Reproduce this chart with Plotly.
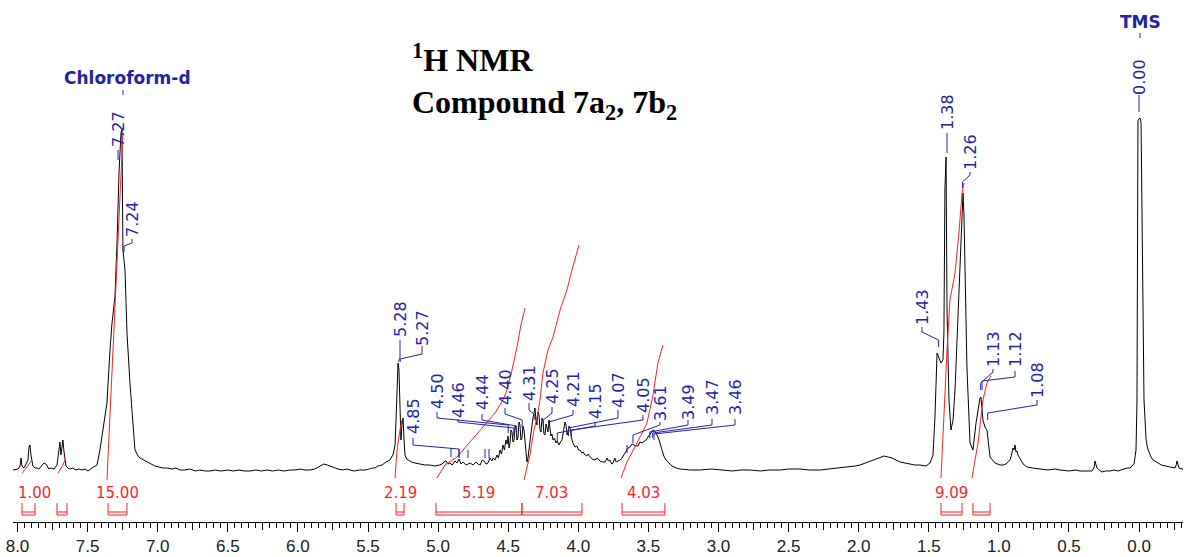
import plotly.graph_objects as go

# ---------------- DATA ----------------
# 1H NMR spectrum trace (chemical shift in ppm, relative intensity)
SHIFT_PPM = [
    8.032, 7.996, 7.982, 7.975, 7.968, 7.954, 7.939, 7.925, 7.918, 7.911,
    7.904, 7.890, 7.875, 7.861, 7.847, 7.833, 7.811, 7.797, 7.776, 7.760,
    7.740, 7.718, 7.704, 7.697, 7.690, 7.683, 7.676, 7.668, 7.654, 7.640,
    7.626, 7.605, 7.583, 7.562, 7.540, 7.518, 7.497, 7.469, 7.433, 7.412,
    7.376, 7.362, 7.340, 7.326, 7.305, 7.290, 7.276, 7.262, 7.255, 7.248,
    7.233, 7.219, 7.198, 7.162, 7.140, 7.126, 7.100, 7.076, 7.050, 7.020,
    6.990, 6.960, 6.934, 6.900, 6.870, 6.840, 6.805, 6.770, 6.730, 6.700,
    6.660, 6.627, 6.590, 6.550, 6.500, 6.460, 6.420, 6.380, 6.342, 6.300,
    6.260, 6.220, 6.180, 6.140, 6.100, 6.056, 6.020, 5.980, 5.950, 5.914,
    5.880, 5.857, 5.835, 5.814, 5.790, 5.771, 5.740, 5.714, 5.680, 5.650,
    5.628, 5.600, 5.560, 5.521, 5.490, 5.470, 5.450, 5.430, 5.400, 5.385,
    5.372, 5.357, 5.343, 5.332, 5.322, 5.314, 5.307, 5.300, 5.293, 5.286,
    5.279, 5.272, 5.265, 5.258, 5.250, 5.243, 5.236, 5.225, 5.215, 5.190,
    5.165, 5.130, 5.094, 5.060, 5.022, 4.990, 4.972, 4.958, 4.944, 4.930,
    4.915, 4.900, 4.879, 4.865, 4.851, 4.836, 4.822, 4.800, 4.772, 4.750,
    4.730, 4.715, 4.700, 4.686, 4.672, 4.658, 4.644, 4.630, 4.616, 4.608,
    4.594, 4.580, 4.570, 4.558, 4.548, 4.537, 4.527, 4.516, 4.508, 4.501,
    4.494, 4.487, 4.480, 4.473, 4.466, 4.458, 4.451, 4.444, 4.437, 4.430,
    4.423, 4.416, 4.409, 4.402, 4.395, 4.387, 4.380, 4.373, 4.366, 4.359,
    4.352, 4.345, 4.338, 4.330, 4.323, 4.316, 4.309, 4.302, 4.295, 4.288,
    4.280, 4.273, 4.266, 4.259, 4.252, 4.245, 4.238, 4.230, 4.223, 4.216,
    4.209, 4.202, 4.195, 4.188, 4.180, 4.170, 4.159, 4.150, 4.138, 4.127,
    4.116, 4.109, 4.102, 4.095, 4.088, 4.080, 4.073, 4.066, 4.059, 4.052,
    4.045, 4.035, 4.024, 4.010, 3.998, 3.988, 3.975, 3.965, 3.952, 3.940,
    3.930, 3.916, 3.900, 3.881, 3.865, 3.845, 3.830, 3.809, 3.795, 3.785,
    3.774, 3.762, 3.752, 3.740, 3.730, 3.717, 3.700, 3.688, 3.675, 3.660,
    3.645, 3.631, 3.617, 3.603, 3.590, 3.574, 3.560, 3.546, 3.530, 3.517,
    3.503, 3.488, 3.478, 3.467, 3.456, 3.446, 3.435, 3.424, 3.414, 3.403,
    3.390, 3.374, 3.350, 3.332, 3.300, 3.274, 3.200, 3.132, 3.050, 2.980,
    2.900, 2.847, 2.780, 2.700, 2.640, 2.561, 2.500, 2.419, 2.350, 2.276,
    2.200, 2.133, 2.080, 2.026, 1.990, 1.955, 1.920, 1.884, 1.850, 1.819,
    1.790, 1.762, 1.735, 1.705, 1.670, 1.634, 1.600, 1.563, 1.520, 1.491,
    1.470, 1.456, 1.441, 1.427, 1.413, 1.399, 1.392, 1.385, 1.377, 1.370,
    1.356, 1.342, 1.327, 1.313, 1.299, 1.292, 1.278, 1.270, 1.263, 1.256,
    1.249, 1.242, 1.228, 1.206, 1.185, 1.163, 1.149, 1.135, 1.128, 1.114,
    1.099, 1.085, 1.063, 1.028, 0.992, 0.970, 0.950, 0.935, 0.921, 0.910,
    0.900, 0.892, 0.885, 0.878, 0.871, 0.864, 0.850, 0.835, 0.820, 0.800,
    0.760, 0.707, 0.650, 0.600, 0.564, 0.500, 0.450, 0.422, 0.380, 0.336,
    0.322, 0.314, 0.307, 0.300, 0.285, 0.265, 0.240, 0.208, 0.180, 0.150,
    0.130, 0.108, 0.085, 0.065, 0.050, 0.036, 0.022, 0.015, 0.008, -0.007,
    -0.014, -0.021, -0.028, -0.035, -0.050, -0.060, -0.071, -0.085, -0.100, -0.120,
    -0.135, -0.160, -0.185, -0.220, -0.256, -0.265, -0.270, -0.278, -0.285, -0.328,
]
INTENSITY = [
    0, 1, 4, 12, 4, 2, 6, 10, 23, 25,
    15, 4, 2, 2, 1, 3, 7, 6, 1, 2,
    1, 5, 22, 28, 15, 25, 30, 18, 4, 2,
    1, 2, 0, 1, 0, 1, -1, 2, 5, 20,
    53, 67, 120, 147, 173, 227, 297, 337, 340, 220,
    200, 137, 87, 20, 14, 12, 10, 8, 6, 4,
    3, 2, 2, 1, 2, 0, 0, 1, -1, 0,
    -1, -1, 0, -1, 0, -1, 0, -1, -1, 0,
    -1, 0, -1, 0, -1, 0, 0, 1, 0, 0,
    1, 3, 5, 6, 5, 4, 2, 1, 0, 1,
    0, -1, 0, 0, 1, 2, 2, 4, 5, 7,
    8, 9, 10, 13, 15, 20, 25, 50, 90, 107,
    100, 50, 30, 45, 52, 30, 15, 11, 10, 8,
    7, 6, 5, 5, 4, 5, 6, 8, 9, 6,
    7, 5, 9, 7, 11, 6, 8, 5, 7, 5,
    8, 6, 5, 10, 9, 6, 7, 12, 9, 12,
    10, 15, 12, 20, 16, 25, 20, 30, 26, 34,
    22, 27, 40, 38, 28, 30, 44, 42, 30, 33,
    48, 45, 30, 32, 44, 40, 25, 18, 8, 12,
    20, 30, 38, 45, 52, 58, 62, 50, 45, 58,
    55, 40, 38, 52, 50, 36, 35, 46, 42, 38,
    50, 40, 34, 36, 30, 32, 27, 29, 25, 28,
    30, 36, 42, 48, 45, 35, 38, 44, 42, 33,
    30, 26, 23, 24, 20, 20, 17, 18, 15, 14,
    16, 13, 11, 10, 12, 9, 8, 8, 12, 9,
    10, 6, 7, 12, 8, 9, 10, 12, 15, 18,
    22, 23, 26, 25, 24, 24, 28, 27, 29, 30,
    33, 36, 38, 40, 39, 37, 34, 30, 25, 20,
    14, 10, 6, 4, 2, 1, 0, 0, 1, 0,
    -1, 0, 0, -1, 0, 0, 1, 1, 0, 0,
    1, 2, 3, 4, 5, 7, 9, 11, 13, 14,
    13, 12, 10, 8, 7, 6, 5, 5, 4, 7,
    15, 53, 117, 112, 107, 110, 137, 280, 313, 160,
    70, 40, 50, 80, 130, 163, 203, 235, 270, 277,
    255, 197, 103, 27, 20, 47, 60, 72, 73, 50,
    43, 40, 13, 7, 5, 5, 6, 8, 10, 15,
    22, 20, 25, 18, 19, 15, 11, 8, 5, 3,
    2, 1, 0, 1, 0, -1, 0, -1, -1, -1,
    2, 9, 5, 2, 0, -2, -1, -1, 0, -1,
    0, 1, 2, 2, 4, 6, 20, 70, 350, 352,
    347, 270, 140, 70, 30, 22, 18, 13, 10, 8,
    7, 5, 4, 3, 2, 5, 9, 4, 2, 0,
]

# integration regions (ppm from, ppm to) and their values
INTEGRAL_FROM = [7.968, 7.718, 7.354, 5.300, 5.015, 4.402, 3.688, 1.413, 1.185]
INTEGRAL_TO = [7.875, 7.647, 7.219, 5.243, 4.402, 3.974, 3.382, 1.263, 1.063]
INTEGRAL_LABELS = ["1.00", "", "15.00", "2.19", "5.19", "7.03", "4.03", "9.09", ""]

# integral curves (ppm, rise)
INT_CURVE_PPM = [
    [7.968, 7.932, 7.897],
    [7.711, 7.683, 7.661],
    [7.362, 7.340, 7.312, 7.283, 7.262, 7.248],
    [5.307, 5.293, 5.272, 5.258],
    [5.008, 4.951, 4.865, 4.772, 4.701, 4.594, 4.537, 4.509, 4.473, 4.437, 4.409, 4.380],
    [4.387, 4.345, 4.316, 4.295, 4.273, 4.252, 4.216, 4.180, 4.130, 4.081, 4.045, 4.016, 3.995],
    [3.695, 3.653, 3.581, 3.510, 3.467, 3.432, 3.396],
    [1.413, 1.399, 1.370, 1.349, 1.313, 1.285, 1.263, 1.249],
    [1.192, 1.149, 1.114, 1.085, 1.057],
]
INT_CURVE_Y = [
    [-3, 3, 10],
    [-3, 3, 10],
    [-10, 50, 140, 230, 300, 337],
    [-8, 20, 40, 50],
    [-8, 5, 13, 28, 40, 57, 70, 80, 100, 123, 145, 162],
    [-10, 15, 40, 52, 70, 97, 120, 133, 160, 180, 200, 215, 225],
    [-8, 8, 27, 47, 75, 107, 125],
    [-8, 37, 120, 170, 197, 237, 277, 287],
    [-8, 27, 70, 87, 94],
]

# peak picking labels (ppm)
PEAK_LABELS = ["7.27", "7.24", "5.28", "5.27", "4.85", "4.50", "4.46", "4.44", "4.40",
               "4.31", "4.25", "4.21", "4.15", "4.07", "4.05", "3.61", "3.49", "3.47",
               "3.46", "1.43", "1.38", "1.26", "1.13", "1.12", "1.08", "0.00"]
PEAK_PPM = [7.27, 7.24, 5.28, 5.27, 4.85, 4.50, 4.46, 4.44, 4.40,
            4.31, 4.25, 4.21, 4.15, 4.07, 4.05, 3.61, 3.49, 3.47,
            3.46, 1.43, 1.38, 1.26, 1.13, 1.12, 1.08, 0.00]

TICK_LABELS = ["8.0", "7.5", "7.0", "6.5", "6.0", "5.5", "5.0", "4.5", "4.0",
               "3.5", "3.0", "2.5", "2.0", "1.5", "1.0", "0.5", "0.0"]
TICK_VALUES = [8.0, 7.5, 7.0, 6.5, 6.0, 5.5, 5.0, 4.5, 4.0,
               3.5, 3.0, 2.5, 2.0, 1.5, 1.0, 0.5, 0.0]

# ---------------- LAYOUT HELPERS ----------------
W, H = 1193, 557
ML, MR, MT, MB = 13, 10, 0, 35
PPM_PER_PX = 0.0071327
PPM_AT_PX0 = 8.1248
BASE_PY = 470


def gx(px):
    return PPM_AT_PX0 - px * PPM_PER_PX


def gy(py):
    return BASE_PY - py


X_RANGE = [gx(ML), gx(W - MR)]
Y_RANGE = [gy(H - MB), gy(MT)]

BLUE = "#2222a6"
RED = "#ff1f1f"

# label layout: text centre (px), connector elbows (px):
# (tx, ty, y_start, y_elbow1, y_elbow2, y_end)
LABEL_LAYOUT = [
    (118, 129, 150, 160, None, None),
    (132, 219, 239, 243, 246, 252),
    (400, 319, 340, 358, 360, 362),
    (422, 328, 346, 354, 359, 362),
    (413, 416, 438, 445, 449, 457),
    (437, 391, 412, 418, 425, 433),
    (458, 400, 419, 422, 428, 436),
    (482, 392, 414, 420, 426, 434),
    (505, 387, 408, 414, 420, 428),
    (529, 383, 403, 410, 415, 420),
    (552, 386, 407, 413, 420, 426),
    (573, 389, 410, 415, 422, 428),
    (595, 401, 422, 426, 433, 441),
    (618, 390, 410, 418, 428, 436),
    (643, 395, 415, 420, 430, 438),
    (660, 403, 422, 425, 435, 443),
    (688, 402, 420, 425, 432, 438),
    (712, 397, 419, 425, 433, 438),
    (735, 397, 419, 425, 434, 440),
    (922, 307, 327, 332, 340, 347),
    (947, 112, 133, 153, None, None),
    (970, 152, 172, 175, 182, 188),
    (993, 349, 369, 372, 383, 390),
    (1015, 349, 371, 377, 381, 390),
    (1037, 380, 400, 405, 413, 420),
    (1139, 77, 95, 112, None, None),
]

fig = go.Figure()

# spectrum
fig.add_trace(go.Scatter(x=SHIFT_PPM, y=INTENSITY, mode="lines",
                         line=dict(color="black", width=1), hoverinfo="skip",
                         showlegend=False))

# integral curves
for cx, cy in zip(INT_CURVE_PPM, INT_CURVE_Y):
    fig.add_trace(go.Scatter(x=cx, y=cy, mode="lines",
                             line=dict(color=RED, width=1), hoverinfo="skip",
                             showlegend=False))

# peak label connectors
cxs, cys = [], []
for (tx, ty, ys, e1, e2, ye), ppm in zip(LABEL_LAYOUT, PEAK_PPM):
    if e2 is None:
        cxs += [gx(tx), gx(tx), None]
        cys += [gy(ys), gy(e1), None]
    else:
        cxs += [gx(tx), gx(tx), ppm, ppm, None]
        cys += [gy(ys), gy(e1), gy(e2), gy(ye), None]
# extra small peak ticks
for px, y0, y1 in [(451, 448, 457), (459, 449, 458), (468, 450, 458), (485, 449, 458),
                   (489, 449, 458), (627, 445, 453), (123, 90, 95), (1140, 33, 38)]:
    cxs += [gx(px), gx(px), None]
    cys += [gy(y0), gy(y1), None]
fig.add_trace(go.Scatter(x=cxs, y=cys, mode="lines", line=dict(color=BLUE, width=1),
                         hoverinfo="skip", showlegend=False))

annotations = []
for (tx, ty, *_), lab in zip(LABEL_LAYOUT, PEAK_LABELS):
    annotations.append(dict(x=gx(tx), y=gy(ty), text=lab, textangle=-90,
                            showarrow=False, xanchor="center", yanchor="middle",
                            font=dict(family="DejaVu Sans", size=16, color=BLUE)))

annotations.append(dict(x=gx(127), y=gy(78), text="<b>Chloroform-d</b>", showarrow=False,
                        xanchor="center", yanchor="middle",
                        font=dict(family="DejaVu Sans", size=17, color=BLUE)))
annotations.append(dict(x=gx(1140), y=gy(22), text="<b>TMS</b>", showarrow=False,
                        xanchor="center", yanchor="middle",
                        font=dict(family="DejaVu Sans", size=17, color=BLUE)))

# title
annotations.append(dict(x=gx(410), y=gy(81), xanchor="left", yanchor="middle", align="left",
                        text="<b><sup>1</sup>H NMR<br>Compound 7a<sub>2</sub>, 7b<sub>2</sub></b>",
                        showarrow=False,
                        font=dict(family="Liberation Serif", size=32, color="black")))

# integration brackets
shapes = []
for a, b, lab in zip(INTEGRAL_FROM, INTEGRAL_TO, INTEGRAL_LABELS):
    for xv in (a, b):
        shapes.append(dict(type="line", x0=xv, x1=xv, y0=gy(503), y1=gy(515),
                           line=dict(color=RED, width=1)))
    for yv in (512, 515):
        shapes.append(dict(type="line", x0=a, x1=b, y0=gy(yv), y1=gy(yv),
                           line=dict(color=RED, width=1)))
    if lab:
        annotations.append(dict(x=(a + b) / 2, y=gy(493), text=lab, showarrow=False,
                                xanchor="center", yanchor="middle",
                                xshift=6 if lab == "1.00" else 0,
                                font=dict(family="DejaVu Sans", size=15, color=RED)))

fig.update_layout(
    width=W, height=H, margin=dict(l=ML, r=MR, t=MT, b=MB),
    paper_bgcolor="white", plot_bgcolor="white",
    showlegend=False, annotations=annotations, shapes=shapes,
    xaxis=dict(range=X_RANGE, tickvals=TICK_VALUES, ticktext=TICK_LABELS,
               ticks="outside", ticklen=9, tickcolor="black", tickwidth=1,
               showline=True, linecolor="black", linewidth=1, showgrid=False,
               zeroline=False, tickfont=dict(family="Liberation Sans", size=17, color="#202020"),
               minor=dict(dtick=0.05, tick0=0, ticks="outside", ticklen=5,
                          tickcolor="black", showgrid=False)),
    xaxis2=dict(range=X_RANGE, overlaying="x", side="bottom", anchor="y",
                tickvals=[7.75, 7.25, 6.75, 6.25, 5.75, 5.25, 4.75, 4.25, 3.75, 3.25,
                          2.75, 2.25, 1.75, 1.25, 0.75, 0.25, -0.25],
                ticks="outside", ticklen=7, tickcolor="black", showticklabels=False,
                showgrid=False, zeroline=False, showline=False),
    yaxis=dict(range=Y_RANGE, visible=False),
)
fig.add_trace(go.Scatter(x=[None], y=[None], xaxis="x2", showlegend=False))

fig.write_html("out.html")
